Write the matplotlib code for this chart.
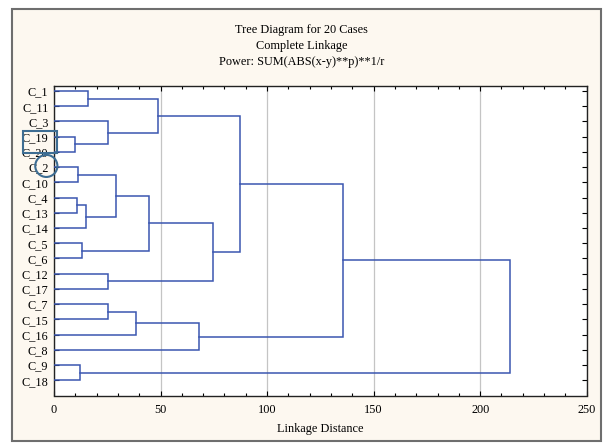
import matplotlib
matplotlib.use("Agg")
import matplotlib.pyplot as plt
from matplotlib.patches import Rectangle, Ellipse
from matplotlib.ticker import MultipleLocator

# Leaf labels in dendrogram order (top to bottom)
leaves = ["C_1", "C_11", "C_3", "C_19", "C_20", "C_2", "C_10", "C_4", "C_13", "C_14",
          "C_5", "C_6", "C_12", "C_17", "C_7", "C_15", "C_16", "C_8", "C_9", "C_18"]

# Merge steps: indices < 20 are leaves, index 20 + k is the cluster from step k
merge_a = [3, 5, 7, 18, 10, 22, 0, 2, 12, 14, 21, 29, 30, 26, 31, 32, 33, 36, 37]
merge_b = [4, 6, 8, 19, 11, 9, 1, 20, 13, 15, 25, 16, 24, 27, 17, 28, 35, 34, 23]
merge_h = [10.0, 11.3, 11.0, 12.4, 13.3, 15.0, 16.1, 25.5, 25.4, 25.5,
           29.3, 38.6, 44.8, 48.6, 68.0, 74.6, 87.2, 135.6, 214.2]

x_ticks = [0, 50, 100, 150, 200, 250]
title_lines = ["Tree Diagram for 20 Cases", "Complete Linkage",
               "Power: SUM(ABS(x-y)**p)**1/r"]

FONT = "Liberation Serif"
LINE = "#3a56b0"
n = len(leaves)

fig = plt.figure(figsize=(6.03, 4.44), dpi=100, facecolor="white")

# cream panel with grey border
panel = Rectangle((12 / 603, 1 - 441 / 444), (601 - 12) / 603, (441 - 9) / 444,
                  transform=fig.transFigure, facecolor="#fdf8f0", edgecolor="#6e6e6e",
                  linewidth=1.5, zorder=-5)
fig.patches.append(panel)

ax = fig.add_axes([54 / 603, 1 - 395.5 / 444, (586.7 - 54) / 603, (395.5 - 86) / 444])
ax.set_zorder(2)
ax.set_facecolor("white")

# node positions: (y, height)
pos = {i: (i + 1.0, 0.0) for i in range(n)}
for k, (a, b, h) in enumerate(zip(merge_a, merge_b, merge_h)):
    ya, ha = pos[a]
    yb, hb = pos[b]
    ax.plot([ha, h, h, hb], [ya, ya, yb, yb], color=LINE, lw=1.1, zorder=3,
            solid_joinstyle="miter")
    pos[n + k] = ((ya + yb) / 2.0, h)

ax.set_xlim(0, 250)
ax.set_ylim(n + 1, 0.67)
ax.set_xticks(x_ticks)
ax.xaxis.set_minor_locator(MultipleLocator(10))
ax.set_yticks(range(1, n + 1))
ax.set_yticklabels(leaves)
ax.grid(axis="x", which="major", color="#c4c4c4", lw=0.9, zorder=1)
ax.tick_params(which="both", direction="in", top=True, right=True, colors="black",
               labelsize=8.8, pad=4)
ax.tick_params(which="major", length=3.5, width=0.8)
ax.tick_params(which="minor", length=2.5, width=0.8)
ax.tick_params(axis="x", pad=6)
for lab in ax.get_xticklabels() + ax.get_yticklabels():
    lab.set_fontfamily(FONT)
for sp in ax.spines.values():
    sp.set_color("#222222")
    sp.set_linewidth(1.0)

ax.set_xlabel("Linkage Distance", fontfamily=FONT, fontsize=8.8, labelpad=5)

for i, line in enumerate(title_lines):
    fig.text(0.5, 1 - (29.5 + 16 * i) / 444, line, ha="center", va="center",
             fontfamily=FONT, fontsize=8.8)

# highlight marks around leaf labels
MARK = "#3d6d93"
ax.add_patch(Rectangle((-14.4, 3.62), 15.9, 1.47, fill=False, edgecolor=MARK,
                       lw=1.5, clip_on=False, zorder=5))
ax.add_patch(Ellipse((-3.6, 5.92), 10.4, 1.45, fill=False, edgecolor=MARK,
                     lw=1.5, clip_on=False, zorder=5))

fig.savefig("out.png", dpi=100, facecolor="white")
